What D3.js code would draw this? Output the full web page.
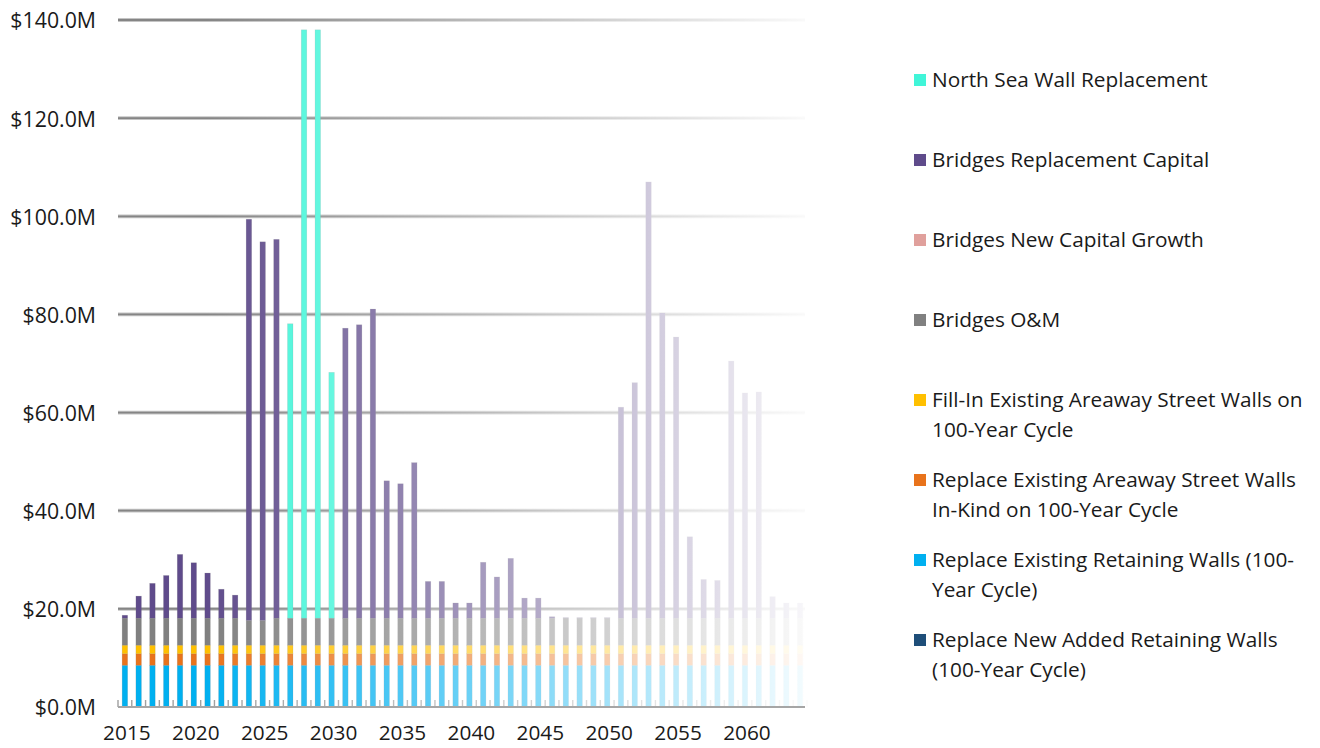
<!DOCTYPE html>
<html>
<head>
<meta charset="utf-8">
<script src="https://cdn.jsdelivr.net/npm/d3@7/dist/d3.min.js"></script>
<style>
  html, body { margin: 0; padding: 0; background: #fff; }
  svg { display: block; font-family: "Open Sans", "Noto Sans", sans-serif; }
</style>
</head>
<body>
<svg id="chart" width="1320" height="748"></svg>
<script>
// Annual programme cost by category, $M
const years = [2015,2016,2017,2018,2019,2020,2021,2022,2023,2024,
               2025,2026,2027,2028,2029,2030,2031,2032,2033,2034,
               2035,2036,2037,2038,2039,2040,2041,2042,2043,2044,
               2045,2046,2047,2048,2049,2050,2051,2052,2053,2054,
               2055,2056,2057,2058,2059,2060,2061,2062,2063,2064];

const newRetaining = [0,0,0,0,0,0,0,0,0,0, 0,0,0,0,0,0,0,0,0,0,
                      0,0,0,0,0,0,0,0,0,0, 0,0,0,0,0,0,0,0,0,0,
                      0,0,0,0,0,0,0,0,0,0];
const existingRetaining = [8.5,8.5,8.5,8.5,8.5,8.5,8.5,8.5,8.5,8.5, 8.5,8.5,8.5,8.5,8.5,8.5,8.5,8.5,8.5,8.5,
                           8.5,8.5,8.5,8.5,8.5,8.5,8.5,8.5,8.5,8.5, 8.5,8.5,8.5,8.5,8.5,8.5,8.5,8.5,8.5,8.5,
                           8.5,8.5,8.5,8.5,8.5,8.5,8.5,8.5,8.5,8.5];
const areawayReplace = [2.35,2.35,2.35,2.35,2.35,2.35,2.35,2.35,2.35,2.35, 2.35,2.35,2.35,2.35,2.35,2.35,2.35,2.35,2.35,2.35,
                        2.35,2.35,2.35,2.35,2.35,2.35,2.35,2.35,2.35,2.35, 2.35,2.35,2.35,2.35,2.35,2.35,2.35,2.35,2.35,2.35,
                        2.35,2.35,2.35,2.35,2.35,2.35,2.35,2.35,2.35,2.35];
const areawayFill = [1.75,1.75,1.75,1.75,1.75,1.75,1.75,1.75,1.75,1.75, 1.75,1.75,1.75,1.75,1.75,1.75,1.75,1.75,1.75,1.75,
                     1.75,1.75,1.75,1.75,1.75,1.75,1.75,1.75,1.75,1.75, 1.75,1.75,1.75,1.75,1.75,1.75,1.75,1.75,1.75,1.75,
                     1.75,1.75,1.75,1.75,1.75,1.75,1.75,1.75,1.75,1.75];
const bridgesOM = [5.5,5.5,5.5,5.5,5.5,5.5,5.5,5.5,5.5,5.05, 5.05,5.5,5.5,5.5,5.5,5.5,5.5,5.5,5.5,5.5,
                   5.5,5.5,5.5,5.5,5.5,5.5,5.5,5.5,5.5,5.5, 5.5,5.5,5.5,5.5,5.5,5.5,5.5,5.5,5.5,5.5,
                   5.5,5.5,5.5,5.5,5.5,5.5,5.5,5.5,5.5,5.5];
const bridgesGrowth = [0,0,0,0,0,0,0,0,0,0, 0,0,0,0,0,0,0,0,0,0,
                       0,0,0,0,0,0,0,0,0,0, 0,0,0,0,0,0,0,0,0,0,
                       0,0,0,0,0,0,0,0,0,0];
const bridgesReplacement = [0.6,4.5,7.1,8.7,13.0,11.3,9.2,5.9,4.7,81.75,
                            77.15,77.2,0,0,0,0,59.1,59.8,63.0,28.0,
                            27.4,31.7,7.5,7.5,3.1,3.1,11.4,8.4,12.2,4.1,
                            4.1,0.3,0.1,0.1,0.1,0.1,43.0,48.0,88.9,62.2,
                            57.3,16.6,7.9,7.7,52.4,45.9,46.1,4.4,3.1,3.1];
const northSeaWall = [0,0,0,0,0,0,0,0,0,0, 0,0,60.0,119.9,119.9,50.1,0,0,0,0,
                      0,0,0,0,0,0,0,0,0,0, 0,0,0,0,0,0,0,0,0,0,
                      0,0,0,0,0,0,0,0,0,0];

// Series in stacking order, bottom to top
const seriesKeys = ["newRetaining","existingRetaining","areawayReplace","areawayFill",
                    "bridgesOM","bridgesGrowth","bridgesReplacement","northSeaWall"];
const seriesColors = ["#1f4e79","#00b0f0","#e8731c","#ffc000","#808080","#e0a09c","#5f4b8b","#40f5d8"];
const seriesValues = [newRetaining, existingRetaining, areawayReplace, areawayFill,
                      bridgesOM, bridgesGrowth, bridgesReplacement, northSeaWall];

// Legend lines, top to bottom
const legendLines = [
  ["North Sea Wall Replacement"],
  ["Bridges Replacement Capital"],
  ["Bridges New Capital Growth"],
  ["Bridges O&M"],
  ["Fill-In Existing Areaway Street Walls on", "100-Year Cycle"],
  ["Replace Existing Areaway Street Walls", "In-Kind on 100-Year Cycle"],
  ["Replace Existing Retaining Walls (100-", "Year Cycle)"],
  ["Replace New Added Retaining Walls", "(100-Year Cycle)"]
];

const yTicks = [0,20,40,60,80,100,120,140];
const xLabelYears = [2015,2020,2025,2030,2035,2040,2045,2050,2055,2060];

const table = years.map((y, i) => {
  const row = { year: y };
  seriesKeys.forEach((k, j) => { row[k] = seriesValues[j][i]; });
  return row;
});

const svg = d3.select("#chart");
const plotLeft = 118, plotRight = 807, plotTop = 20, plotBottom = 707;
const fontSize = 20.8;

const x = d3.scaleBand().domain(years).range([plotLeft, plotRight])
  .paddingInner(0.6).paddingOuter(0.3);
const y = d3.scaleLinear().domain([0, 140]).range([plotBottom, plotTop]);
const color = d3.scaleOrdinal().domain(seriesKeys).range(seriesColors);

// Fade toward the right across the plot area
const defs = svg.append("defs");
const grad = defs.append("linearGradient").attr("id", "fadeGrad")
  .attr("gradientUnits", "userSpaceOnUse")
  .attr("x1", 205).attr("x2", 815).attr("y1", 0).attr("y2", 0);
grad.append("stop").attr("offset", 0).attr("stop-color", "#ffffff");
grad.append("stop").attr("offset", 1).attr("stop-color", "#080808");
defs.append("mask").attr("id", "fadeMask").attr("maskUnits", "userSpaceOnUse")
  .attr("x", 0).attr("y", 0).attr("width", 1320).attr("height", 748)
  .append("rect").attr("x", 0).attr("y", 0).attr("width", 1320).attr("height", 748)
  .attr("fill", "url(#fadeGrad)");

const plot = svg.append("g").attr("mask", "url(#fadeMask)");

// Gridlines
const gridG = plot.append("g");
gridG.selectAll("line.halo").data(yTicks.filter(d => d > 0)).join("line")
  .attr("class", "halo")
  .attr("x1", plotLeft).attr("x2", 805)
  .attr("y1", d => y(d)).attr("y2", d => y(d))
  .attr("stroke", "#c4c4c4").attr("stroke-width", 3.8);
gridG.selectAll("line.core").data(yTicks.filter(d => d > 0)).join("line")
  .attr("class", "core")
  .attr("x1", plotLeft).attr("x2", 805)
  .attr("y1", d => y(d)).attr("y2", d => y(d))
  .attr("stroke", "#858585").attr("stroke-width", 1.8);

// Stacked bars
const stack = d3.stack().keys(seriesKeys)(table);
plot.append("g").selectAll("g").data(stack).join("g")
  .attr("fill", d => color(d.key))
  .selectAll("rect").data(d => d.filter(p => p[1] - p[0] > 0)).join("rect")
  .attr("x", d => x(d.data.year))
  .attr("width", x.bandwidth())
  .attr("y", d => y(d[1]))
  .attr("height", d => y(d[0]) - y(d[1]))
  .attr("stroke", "rgba(120,120,120,0.25)")
  .attr("stroke-width", 0.6);

// Category tick marks between bars
const gap = x.step() - x.bandwidth();
const tickX = years.map(d => x(d) - gap / 2)
  .concat([x(years[years.length - 1]) + x.bandwidth() + gap / 2]);
plot.append("g").selectAll("line").data(tickX).join("line")
  .attr("x1", d => d).attr("x2", d => d)
  .attr("y1", plotBottom - 7).attr("y2", plotBottom)
  .attr("stroke", "#a0a0a0").attr("stroke-width", 1.4);

// X axis baseline
svg.append("line")
  .attr("x1", plotLeft).attr("x2", 805)
  .attr("y1", plotBottom).attr("y2", plotBottom)
  .attr("stroke", "#a6a6a6").attr("stroke-width", 2.2);

// Y axis labels
svg.append("g").selectAll("text").data(yTicks).join("text")
  .attr("x", 96).attr("y", d => y(d) + 1)
  .attr("dy", "0.35em")
  .attr("text-anchor", "end")
  .attr("font-size", fontSize + 0.5)
  .attr("fill", "#1a1a1a")
  .text(d => "$" + d.toFixed(1) + "M");

// X axis labels
svg.append("g").selectAll("text").data(xLabelYears).join("text")
  .attr("x", d => x(d) + x.bandwidth() / 2 + 2)
  .attr("y", 733).attr("dy", "0.35em")
  .attr("text-anchor", "middle")
  .attr("font-size", fontSize)
  .attr("fill", "#1a1a1a")
  .text(d => d);

// Legend
const legendOrder = seriesKeys.slice().reverse();
const legend = svg.append("g");
legendOrder.forEach((k, i) => {
  const cy = 80 + i * 80;
  legend.append("rect")
    .attr("x", 914).attr("y", cy - 6).attr("width", 12).attr("height", 12)
    .attr("fill", color(k));
  legendLines[i].forEach((line, j) => {
    legend.append("text")
      .attr("x", 932).attr("y", cy + j * 30).attr("dy", "0.35em")
      .attr("font-size", fontSize)
      .attr("fill", "#1a1a1a")
      .text(line);
  });
});
</script>
</body>
</html>
